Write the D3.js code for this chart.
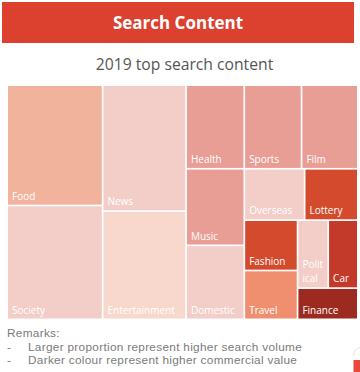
<!DOCTYPE html>
<html><head><meta charset="utf-8">
<script src="https://cdn.jsdelivr.net/npm/d3@7/dist/d3.min.js"></script>
<style>
html,body{margin:0;padding:0;background:#fff;}
svg{display:block;}
</style></head>
<body>
<svg id="chart" width="360" height="372"></svg>
<script>
// ---- data ----
const title = "Search Content";
const subtitle = "2019 top search content";
const categories = ["Food","Society","News","Entertainment","Health","Sports","Film","Music","Domestic","Overseas","Lottery","Fashion","Travel","Political","Car","Finance"];
const searchVolume = [11350,10740,10380,8920,4810,4730,4650,4410,4260,3060,2700,2650,2570,2060,1990,1860];
const colours = ["#f2b39d","#f3cdc8","#f3cdc8","#f8d8cc","#e89e95","#e89e95","#e89e95","#e89e95","#f3cdc8","#f3cdc8","#d44a2c","#d44a2c","#f08f6f","#f3cdc8","#c43a2a","#9c2a20"];
// grouping of the cells (nested blocks, as in the reference layout)
const groups = [
  ["Food","Society"],
  ["News","Entertainment"],
  [["Health","Sports","Film"],
   [["Music","Domestic"],
    [["Overseas","Lottery"],
     [["Fashion","Travel"],
      [["Political","Car"],"Finance"]]]]]
];
const remarks = ["Remarks:","Larger proportion represent higher search volume","Darker colour represent higher commercial value"];

// ---- build hierarchy ----
const valueOf = Object.fromEntries(categories.map((c,i)=>[c,searchVolume[i]]));
const colourOf = Object.fromEntries(categories.map((c,i)=>[c,colours[i]]));
function build(g){
  if (typeof g === "string") return {name:g, value:valueOf[g]};
  return {children:g.map(build)};
}
const root = d3.hierarchy(build(groups)).sum(d=>d.value||0);

const svg = d3.select("#chart");
const font = "'Open Sans', sans-serif";

// header
svg.append("rect").attr("x",2).attr("y",2).attr("width",352).attr("height",41).attr("fill","#dc4130");
svg.append("text").attr("x",178).attr("y",29).attr("text-anchor","middle")
  .attr("font-family",font).attr("font-weight","bold").attr("font-size",17).attr("fill","#fff").text(title);
svg.append("text").attr("x",184.5).attr("y",70).attr("text-anchor","middle")
  .attr("font-family",font).attr("font-size",15.7).attr("fill","#555").text(subtitle);

// treemap
const X0=8, Y0=86, W=349, H=232.5;
d3.treemap().tile(d3.treemapSliceDice).size([W,H]).paddingInner(1.7)(root);
const g = svg.append("g").attr("transform",`translate(${X0},${Y0})`);
const leaves = g.selectAll("g.cell").data(root.leaves()).join("g").attr("class","cell");
leaves.append("rect")
  .attr("x",d=>d.x0).attr("y",d=>d.y0)
  .attr("width",d=>d.x1-d.x0).attr("height",d=>d.y1-d.y0)
  .attr("fill",d=>colourOf[d.data.name]);
leaves.each(function(d){
  const cell = d3.select(this);
  const maxW = d.x1-d.x0-6;
  const t = cell.append("text").attr("font-family",font).attr("font-size",10).attr("fill","#fff")
    .attr("x",d.x0+4);
  const name = d.data.name;
  t.text(name);
  let lines=[name];
  if (t.node().getComputedTextLength() > maxW){
    lines=[]; let cur="";
    for (const ch of name){
      t.text(cur+ch);
      if (t.node().getComputedTextLength() > maxW && cur){ lines.push(cur); cur=ch; }
      else cur+=ch;
    }
    lines.push(cur);
  }
  t.text(null);
  const n=lines.length;
  lines.forEach((ln,i)=>{
    t.append("tspan").attr("x",d.x0+4).attr("y",d.y1-5-(n-1-i)*14).text(ln);
  });
});

// remarks
const rfont = "'Liberation Sans', Arial, sans-serif";
const r = svg.append("g").attr("font-family",rfont).attr("font-size",11.8).attr("fill","#7a7a7a")
  .attr("letter-spacing",0.3);
r.append("text").attr("x",7).attr("y",337).text(remarks[0]);
remarks.slice(1).forEach((s,i)=>{
  const t = r.append("text").attr("y",350.5+i*13.5);
  t.append("tspan").attr("x",7).text("-");
  t.append("tspan").attr("x",28).text(s);
});

// corner decoration
svg.append("path").attr("d","M353.5,356 Q353.5,348 361,347.5").attr("fill","none").attr("stroke","#ddd").attr("stroke-width",0.8);
svg.append("rect").attr("x",353.5).attr("y",360).attr("width",7).attr("height",12).attr("fill","#e8473a");
</script>
</body></html>
